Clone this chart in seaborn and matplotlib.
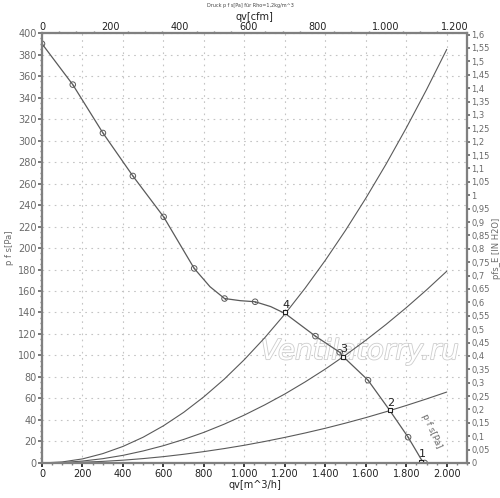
import numpy as np
import pandas as pd
import matplotlib
matplotlib.use("Agg")
import matplotlib.pyplot as plt
import matplotlib.ticker as mticker
import matplotlib.patheffects as pe
import seaborn as sns

# fan curve p_fs [Pa] over q_v [m^3/h]
fan_q = [0, 152, 301, 449, 601, 752, 830, 902, 980, 1053, 1130, 1202, 1351, 1471, 1488, 1611, 1718, 1809, 1850, 1875, 1891]
fan_p = [390, 352, 307, 267, 229, 181, 164, 153, 151, 150, 145.5, 139, 118, 103, 99, 77, 49, 24, 11, 3, 0]

# measured points on the fan curve
pts_q = [0, 152, 301, 449, 601, 752, 902, 1053, 1351, 1471, 1611, 1809, 1891]
pts_p = [390, 352, 307, 267, 229, 181, 153, 150, 118, 103, 77, 24, 0]

# operating points
op_q = [1875, 1718, 1488, 1202]
op_p = [1, 49, 99, 140]
op_labels = ["1", "2", "3", "4"]

# system curves
sys_q = [0, 100, 200, 300, 400, 500, 600, 700, 800, 900, 1000, 1100, 1200,
         1300, 1400, 1500, 1600, 1700, 1800, 1900, 2000]
sys_a = [0, 1.0, 3.8, 8.7, 15.4, 24.0, 34.6, 47.1, 61.6, 77.9, 96.2, 116.4, 138.5,
         162.6, 188.6, 216.5, 246.3, 278.0, 311.7, 347.3, 384.8]
sys_b = [0, 0.4, 1.8, 4.0, 7.1, 11.2, 16.1, 21.9, 28.5, 36.1, 44.6, 54.0, 64.2,
         75.4, 87.4, 100.4, 114.2, 128.9, 144.5, 161.0, 178.4]
sys_c = [0, 0.2, 0.7, 1.5, 2.6, 4.1, 5.9, 8.1, 10.6, 13.4, 16.5, 20.0, 23.8,
         27.9, 32.3, 37.1, 42.2, 47.7, 53.5, 59.6, 66.0]

sns.set_theme(style="white")
plt.rcParams['font.family'] = ['DejaVu Sans']

line_c = "#5a5a5a"
tick_c = "#6a6a6a"
spine_c = "#808080"

fig = plt.figure(figsize=(5, 4.98), dpi=100)
ax = fig.add_axes([0.084, 0.0703, 0.85, 0.8634])

ax.text(1570, 104, "Ventilatorry.ru", fontsize=20, fontstyle="italic", color="white",
        ha="center", va="center", zorder=1,
        path_effects=[pe.withStroke(linewidth=1.2, foreground="#cdcdcd")])

for vals in (sys_a, sys_b, sys_c):
    sns.lineplot(x=sys_q, y=vals, ax=ax, color=line_c, linewidth=0.8, sort=False)

sns.lineplot(x=fan_q, y=fan_p, ax=ax, color=line_c, linewidth=0.9, sort=False)
sns.scatterplot(x=pts_q, y=pts_p, ax=ax, marker="o", s=16, facecolor="none",
                edgecolor=line_c, linewidth=0.7, zorder=4)
sns.scatterplot(x=pts_q, y=pts_p, ax=ax, marker="o", s=1.2, color=line_c, linewidth=0, zorder=5)
sns.scatterplot(x=op_q, y=op_p, ax=ax, marker="s", s=10, facecolor="white",
                edgecolor="#222222", linewidth=0.8, zorder=6)
for q, p, lab in zip(op_q, op_p, op_labels):
    ax.text(q + 5, p + 2.5, lab, fontsize=8, color="#222222", ha="center", va="bottom", zorder=7)

ax.text(1925, 30, "p f s[Pa]", fontsize=6.5, color=tick_c, rotation=-66,
        ha="center", va="center")

ax.set_xlim(0, 2100)
ax.set_ylim(0, 400)
ax.xaxis.set_major_locator(mticker.MultipleLocator(200))
ax.yaxis.set_major_locator(mticker.MultipleLocator(20))
ax.yaxis.set_minor_locator(mticker.MultipleLocator(5))
ax.xaxis.set_minor_locator(mticker.MultipleLocator(50))
ax.xaxis.set_major_formatter(mticker.FuncFormatter(lambda v, _: f"{int(v):,}".replace(",", ".")))
ax.grid(True, which="major", color="#c4c4c4", linestyle=(0, (1.5, 4)), linewidth=0.8)
ax.tick_params(axis="x", which="major", labelsize=7, colors="#222222", length=3, direction="out", pad=1)
ax.tick_params(axis="y", which="major", labelsize=7, colors=tick_c, length=3, direction="out", pad=1)
ax.tick_params(which="minor", length=1.5, colors=spine_c, bottom=True, left=True)
ax.set_xlabel("qv[m^3/h]", fontsize=7, color="#222222", labelpad=1)
ax.set_ylabel("p f s[Pa]", fontsize=6, color=tick_c, labelpad=3)

for s in ax.spines.values():
    s.set_color(spine_c)
    s.set_linewidth(1.5)

# top axis in cfm
axt = ax.twiny()
axt.set_xlim(0, 2100 / 1.699)
axt.xaxis.set_major_locator(mticker.MultipleLocator(200))
axt.xaxis.set_minor_locator(mticker.MultipleLocator(50))
axt.xaxis.set_major_formatter(mticker.FuncFormatter(lambda v, _: f"{int(v):,}".replace(",", ".")))
axt.tick_params(axis="x", which="major", labelsize=7, colors="#222222", length=0, pad=1)
axt.tick_params(axis="x", which="minor", length=1.5, colors=spine_c, top=True)
axt.set_xlabel("qv[cfm]", fontsize=7, color="#222222", labelpad=1)

# right axis in inch water column
axr = ax.twinx()
axr.set_ylim(0, 400 / 249.09)
axr.yaxis.set_major_locator(mticker.MultipleLocator(0.05))
axr.yaxis.set_major_formatter(mticker.FuncFormatter(lambda v, _: f"{v:.2f}".rstrip("0").rstrip(".").replace(".", ",")))
axr.tick_params(axis="y", labelsize=6, colors=tick_c, length=2, pad=1)
axr.set_ylabel("pfs_E [IN H2O]", fontsize=6, color=tick_c, labelpad=2)
for a in (axt, axr):
    for s in a.spines.values():
        s.set_color(spine_c)
        s.set_linewidth(1.5)

fig.text(0.5, 0.988, "Druck p f s[Pa] für Rho=1,2kg/m^3", fontsize=3.5, color="#444444",
         ha="center", va="center")

fig.savefig("out.png", dpi=100)
